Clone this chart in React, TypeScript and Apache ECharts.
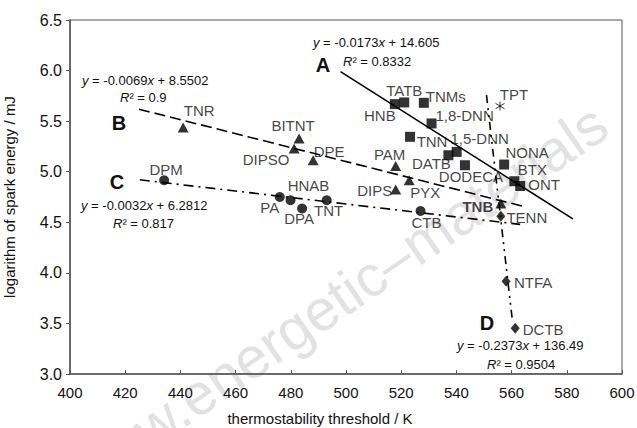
import React, { useEffect, useRef } from "react";
import * as echarts from "echarts";

// ---- data ----
const xTicks = { min: 400, max: 600, interval: 20 };
const yTicks = { min: 3.0, max: 6.5, interval: 0.5 };

const namesA = ["HNB", "TATB", "TNMs", "1,8-DNN", "TNN", "DATB", "1,5-DNN", "DODECA", "NONA", "BTX", "ONT"];
const xA = [517.7, 521.1, 528.2, 531.0, 523.2, 537.1, 540.1, 543.1, 557.3, 561.0, 563.1];
const yA = [5.668, 5.685, 5.681, 5.477, 5.345, 5.163, 5.196, 5.064, 5.071, 4.906, 4.859];

const namesB = ["TNR", "BITNT", "DIPSO", "DPE", "PAM", "PYX", "DIPS", "TNB"];
const xB = [441.0, 483.0, 481.2, 488.1, 518.0, 522.9, 518.0, 556.1];
const yB = [5.438, 5.329, 5.23, 5.114, 5.057, 4.916, 4.824, 4.685];

const namesC = ["DPM", "PA", "HNAB", "DPA", "TNT", "CTB"];
const xC = [434.1, 476.0, 479.9, 484.1, 493.0, 527.0];
const yC = [4.916, 4.75, 4.718, 4.636, 4.718, 4.612];

const namesD = ["TENN", "NTFA", "DCTB"];
const xD = [556.1, 558.0, 561.3];
const yD = [4.559, 3.916, 3.453];

const namesE = ["TPT"];
const xE = [555.8];
const yE = [5.649];

// regression line end points (from the printed equations)
const trendA = [[498.0, 5.99], [582.2, 4.533]];
const trendB = [[425.0, 5.618], [564.3, 4.657]];
const trendC = [[425.3, 4.92], [563.1, 4.479]];
const trendD = [[550.9, 5.757], [560.2, 3.55]];

const equations = {
  A: ["-0.0173", "14.605", "0.8332"],
  B: ["-0.0069", "8.5502", "0.9"],
  C: ["-0.0032", "6.2812", "0.817"],
  D: ["-0.2373", "136.49", "0.9504"],
};

// ---- label placement (pixel offsets from the marker) ----
const labelOffsets: Record<string, [number, number]> = {
  HNB: [-15, 11], TATB: [0, -12], TNMs: [22, -6], "1,8-DNN": [33, -8], TNN: [22, 5],
  DATB: [-17, 8], "1,5-DNN": [23, -13], DODECA: [6, 11], NONA: [23, -12], BTX: [18, -12], ONT: [24, -1],
  TNR: [16, -17], BITNT: [-6, -13], DIPSO: [-28, 11], DPE: [16, -9], PAM: [-6, -11], PYX: [16, 12],
  DIPS: [-21, 1], TNB: [-23, 3],
  DPM: [2, -11], PA: [-10, 10], HNAB: [18, -15], DPA: [-3, 10], TNT: [2, 10], CTB: [6, 12],
  TENN: [26, 1], NTFA: [27, 1], DCTB: [28, 1], TPT: [14, -12],
};

const FONT = "'Liberation Sans', Arial, Helvetica, sans-serif";
const INK = "#111";

function pts(names: string[], xs: number[], ys: number[], boldNames: string[] = []) {
  return names.map((n, i) => ({
    name: n,
    value: [xs[i], ys[i]],
    label: {
      offset: labelOffsets[n] || [0, 0],
      fontWeight: boldNames.includes(n) ? "bold" : "normal",
    },
  }));
}

const scatterLabel = {
  show: true,
  position: "inside",
  formatter: "{b}",
  color: INK,
  fontSize: 15,
  fontFamily: FONT,
};

function eqText(x: number, y: number, text: string) {
  return {
    type: "text",
    x,
    y,
    z: 20,
    silent: true,
    style: {
      text,
      fontFamily: FONT,
      fontSize: 13,
      fill: INK,
      textAlign: "left",
      verticalAlign: "middle",
      rich: {
        i: { fontStyle: "italic", fontFamily: FONT, fontSize: 13, fill: INK, color: INK },
        n: { fontFamily: FONT, fontSize: 13, fill: INK, color: INK },
      },
    },
  };
}

function letter(x: number, y: number, t: string) {
  return {
    type: "text",
    x,
    y,
    z: 20,
    silent: true,
    style: {
      text: t,
      fontFamily: FONT,
      fontSize: 20,
      fontWeight: "bold",
      fill: INK,
      textAlign: "center",
      verticalAlign: "middle",
    },
  };
}

const eqLine = (k: keyof typeof equations) =>
  `{i|y}{n| = ${equations[k][0]}}{i|x}{n| + ${equations[k][1]}}`;
const r2Line = (k: keyof typeof equations) => `{i|R}{n|² = ${equations[k][2]}}`;

export default function App() {
  const ref = useRef<HTMLDivElement>(null);
  useEffect(() => {
    document.body.style.margin = "0";
    if (!ref.current) return;
    const chart = echarts.init(ref.current, null, { renderer: "svg" });
    const wmAngle = (34.5 * Math.PI) / 180;
    const option = {
      animation: false,
      backgroundColor: "#fff",
      grid: {
        left: 70,
        right: 15,
        top: 20,
        bottom: 54,
        show: true,
        borderColor: "#555",
        borderWidth: 1,
        outerBoundsMode: "none",
      },
      xAxis: {
        type: "value",
        min: xTicks.min,
        max: xTicks.max,
        interval: xTicks.interval,
        splitLine: { show: false },
        axisLine: { lineStyle: { color: "#555", width: 1.5 } },
        axisTick: { inside: true, length: 4, lineStyle: { color: "#555" } },
        axisLabel: { color: INK, fontSize: 15, fontFamily: FONT, margin: 11 },
      },
      yAxis: {
        type: "value",
        min: yTicks.min,
        max: yTicks.max,
        interval: yTicks.interval,
        splitLine: { show: false },
        axisLine: { show: true, lineStyle: { color: "#555", width: 1.5 } },
        axisTick: { show: true, inside: false, length: 4, lineStyle: { color: "#555" } },
        axisLabel: {
          color: INK,
          fontSize: 16,
          fontFamily: FONT,
          margin: 8,
          formatter: (v: number) => v.toFixed(1),
        },
      },
      graphic: [
        {
          type: "text",
          x: 139,
          y: 435,
          rotation: wmAngle,
          z: -10,
          silent: true,
          style: {
            text: "w.energetic–materials",
            fontFamily: FONT,
            fontSize: 58,
            fill: "#e2e2e2",
            textAlign: "left",
            verticalAlign: "middle",
          },
        },
        {
          type: "text",
          x: 9,
          y: 197,
          rotation: Math.PI / 2,
          silent: true,
          style: {
            text: "logarithm of spark energy / mJ",
            fontFamily: FONT,
            fontSize: 15,
            fill: INK,
            textAlign: "center",
            verticalAlign: "middle",
          },
        },
        {
          type: "text",
          x: 320,
          y: 418,
          silent: true,
          style: {
            text: "thermostability threshold / K",
            fontFamily: FONT,
            fontSize: 15,
            fill: INK,
            textAlign: "center",
            verticalAlign: "middle",
          },
        },
        eqText(313, 42, eqLine("A")),
        eqText(343, 61, r2Line("A")),
        eqText(82, 80, eqLine("B")),
        eqText(120, 97, r2Line("B")),
        eqText(81, 205, eqLine("C")),
        eqText(113, 223, r2Line("C")),
        eqText(457, 345, eqLine("D")),
        eqText(487, 364, r2Line("D")),
        letter(323, 65, "A"),
        letter(119, 123, "B"),
        letter(117, 182, "C"),
        letter(487, 323, "D"),
      ],
      series: [
        {
          type: "line",
          data: trendA,
          symbol: "none",
          silent: true,
          z: 1,
          lineStyle: { color: "#000", width: 1.6, type: "solid" },
        },
        {
          type: "line",
          data: trendB,
          symbol: "none",
          silent: true,
          z: 1,
          lineStyle: { color: "#000", width: 1.6, type: [11, 5] },
        },
        {
          type: "line",
          data: trendC,
          symbol: "none",
          silent: true,
          z: 1,
          lineStyle: { color: "#000", width: 1.6, type: [10, 5, 2, 5] },
        },
        {
          type: "line",
          data: trendD,
          symbol: "none",
          silent: true,
          z: 1,
          lineStyle: { color: "#000", width: 1.6, type: [8, 5, 2, 5, 2, 5] },
        },
        {
          type: "scatter",
          data: pts(namesA, xA, yA),
          symbol: "rect",
          symbolSize: 10,
          itemStyle: { color: "#000" },
          label: scatterLabel,
          z: 5,
        },
        {
          type: "scatter",
          data: pts(namesB, xB, yB, ["TNB"]),
          symbol: "triangle",
          symbolSize: [11, 10],
          itemStyle: { color: "#000" },
          label: scatterLabel,
          z: 5,
        },
        {
          type: "scatter",
          data: pts(namesC, xC, yC),
          symbol: "circle",
          symbolSize: 10,
          itemStyle: { color: "#000" },
          label: scatterLabel,
          z: 5,
        },
        {
          type: "scatter",
          data: pts(namesD, xD, yD),
          symbol: "diamond",
          symbolSize: [9, 11],
          itemStyle: { color: "#000" },
          label: scatterLabel,
          z: 5,
        },
        {
          type: "scatter",
          data: pts(namesE, xE, yE),
          symbol: "path://M5,0L5,10M0,2L10,8M0,8L10,2",
          symbolSize: 9,
          itemStyle: { color: "none", borderColor: "#000", borderWidth: 1 },
          label: scatterLabel,
          z: 5,
        },
      ],
    };
    chart.setOption(option as any);
    return () => chart.dispose();
  }, []);
  return <div ref={ref} style={{ width: 637, height: 428 }} />;
}
